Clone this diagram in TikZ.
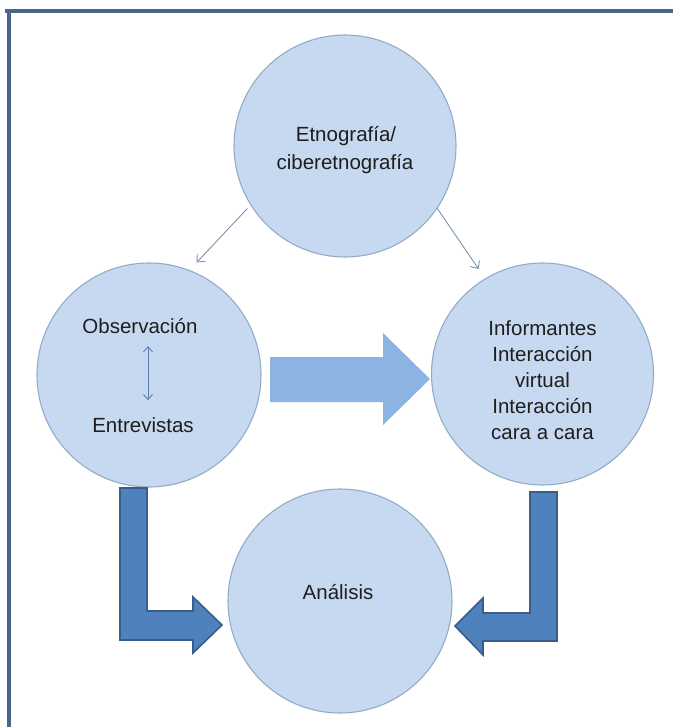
\documentclass[tikz,border=0pt]{standalone}
\usepackage{fontspec}
\setmainfont{Liberation Sans}
\usetikzlibrary{arrows.meta,calc}
\definecolor{frameblue}{HTML}{4A6688}
\definecolor{circfill}{HTML}{C6D9F0}
\definecolor{circline}{HTML}{94ABC6}
\definecolor{bigarrow}{HTML}{8DB3E2}
\definecolor{bentfill}{HTML}{4F81BD}
\definecolor{bentline}{HTML}{385D8A}
\definecolor{thinline}{HTML}{7C93AE}
\definecolor{dblline}{HTML}{5B7FB0}
\definecolor{txt}{HTML}{1E1E1E}
\tikzset{
  circ/.style={circle, fill=circfill, draw=circline, line width=1.1pt, minimum size=#1, inner sep=0pt, outer sep=0pt},
  lbl/.style={text=txt, inner sep=0pt, outer sep=0pt, anchor=base, font=\fontsize{20.5}{26}\selectfont},
  thinarrow/.style={draw=thinline, line width=0.9pt, -{Straight Barb[length=6pt,width=11pt]}},
  dblarrow/.style={draw=dblline, line width=0.9pt, {Straight Barb[length=5pt,width=9pt]}-{Straight Barb[length=5pt,width=9pt]}},
  bentarrow/.style={fill=bentfill, draw=bentline, line width=1.6pt, line join=miter},
}
\begin{document}
\begin{tikzpicture}[x=1pt,y=-1pt]
\useasboundingbox (0,0) rectangle (673,727);
\fill[white] (0,0) rectangle (673,727);
% frame
\fill[frameblue] (5,9) rectangle (673,13);
\fill[frameblue] (7,9) rectangle (11,727);

% circles
\node[circ=222pt] (top) at (345,146) {};
\node[circ=224pt] (left) at (149,375) {};
\node[circ=222pt] (right) at (542.5,374) {};
\node[circ=224pt] (bottom) at (340,601) {};

% top text
\node[lbl] (t1) at (346,142) {Etnografía/};
\node[lbl] (t2) at (345,170) {ciberetnografía};

% left text
\node[lbl] (obs) at (140,333) {Observación};
\node[lbl] (ent) at (143,432) {Entrevistas};
\draw[dblarrow, shorten <=13pt, shorten >=17pt] ([xshift=8pt]obs.south) -- ([xshift=5pt]ent.north);

% right text
\node[lbl] (r1) at (542.5,335) {Informantes};
\node[lbl] (r2) at (542.5,361) {Interacción};
\node[lbl] (r3) at (542.5,387) {virtual};
\node[lbl] (r4) at (542.5,413) {Interacción};
\node[lbl] (r5) at (542.5,439) {cara a cara};

% bottom text
\node[lbl] (an) at (338,599) {Análisis};

% thin arrows
\draw[thinarrow, shorten <=5pt, shorten >=11pt] (top.212) -- (left.69);
\draw[thinarrow, shorten >=12pt] (top.-34) -- (right.121);

% big right arrow
\fill[bigarrow] (270,357) -- (383,357) -- (383,333) -- (430,379) -- (383,425) -- (383,402) -- (270,402) -- cycle;

% bent arrows
\draw[bentarrow] (120,488) -- (147,488) -- (147,611) -- (193,611) -- (193,597) -- (222,625) -- (193,653) -- (193,640) -- (120,640) -- cycle;
\draw[bentarrow] (557,492) -- (530,492) -- (530,613) -- (483,613) -- (483,598) -- (455,626) -- (483,655) -- (483,641) -- (557,641) -- cycle;
\end{tikzpicture}
\end{document}
